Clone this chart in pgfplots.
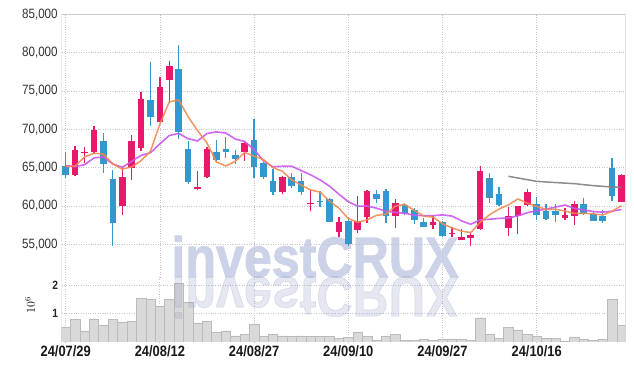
\documentclass[border=0pt]{standalone}
\usepackage{pgfplots}
\pgfplotsset{compat=1.18}
\usepackage{pgfplotstable}
\usepackage{fontspec}
\setmainfont{Liberation Sans}[FakeStretch=0.86]
\newfontfamily\wmfont{Liberation Sans Bold}[FakeStretch=0.88, FakeBold=1.4]
\definecolor{cup}{HTML}{E8196B}
\definecolor{cdn}{HTML}{3399CC}
\definecolor{cmaa}{HTML}{F08A50}
\definecolor{cmab}{HTML}{CC55EE}
\definecolor{cmac}{HTML}{808080}
\definecolor{cgrid}{HTML}{C4C4D4}
\definecolor{cframe}{HTML}{CCCCD4}
\definecolor{cvol}{HTML}{D9D9D9}
\definecolor{cvoledge}{HTML}{BBBBBB}
\definecolor{cwm}{HTML}{CCD3E8}
\definecolor{cwmb}{HTML}{96A0C8}

\pgfplotstableread{
i o h l c
1 63995 67870 63865 67310
2 66870 67700 65610 67090
3 66990 70480 66830 69960
6 60040 64960 58830 63825
7 64960 69300 63400 68520
8 67520 74830 67220 74000
10 70910 76840 70910 75570
11 76390 78960 73440 78310
14 62270 64610 62130 62520
15 63730 67650 63650 67440
19 67050 68430 65910 68260
23 61870 63960 61610 63830
26 60260 62170 59300 60430
29 56560 58510 55900 57910
31 56910 61250 56480 57990
32 58520 62130 57780 62000
35 58650 60910 57130 60340
39 57560 58640 57040 57950
41 56400 57260 55960 56480
42 55510 57040 55510 55960
43 55770 56480 54730 56220
44 57040 65260 56910 64610
47 57080 59870 56120 58740
48 58640 60040 56390 60040
49 60170 62220 59950 61870
53 58380 59740 58120 58870
54 58640 60650 57560 60300
59 60560 64220 60560 64090
}\up

\pgfplotstableread{
i o h l c
0 65261 67049 63656 63995
4 68520 69530 64310 65430
5 63565 64740 54740 57730
9 73870 78790 70480 71560
12 77920 80960 68750 69660
13 67480 68430 62910 63080
16 67090 68650 65820 65950
17 67390 68950 66270 67050
18 66700 67350 65480 66170
20 68650 71360 63650 65040
21 65610 65740 63530 63730
22 63300 64830 61480 61780
24 63830 64260 62350 62560
25 63300 64310 61480 61780
27 60690 62000 59910 60470
28 60950 61050 57900 57950
30 58080 58440 54730 55040
33 61610 62130 60390 60950
34 62000 62220 57780 58650
36 60080 60390 58870 59090
37 59520 59740 57690 58120
38 57950 58430 57210 57210
40 57910 57990 55960 56040
45 63700 64310 60390 60990
46 61570 62480 59950 60180
50 60300 61120 58120 58830
51 59390 60260 58120 58340
52 59300 60260 57860 58780
55 60300 61050 58820 58950
56 58950 59300 57990 57990
57 58740 59430 57780 57990
58 64960 66270 60610 61250
}\down

\pgfplotstableread{
i v
0 65150
1 65220
2 66380
3 66880
4 66757
5 65504
6 64807
7 65093
8 65901
9 67127
10 70695
11 73592
12 73820
13 71636
14 69828
15 68202
16 65730
17 65208
18 65826
19 66974
20 66494
21 66050
22 64996
23 64528
24 63388
25 62736
26 62076
27 61814
28 60638
29 59708
30 58360
31 57872
32 58178
33 58778
34 58926
35 59986
36 60206
37 59430
38 58682
39 58542
40 57682
41 57160
42 56728
43 56530
44 57862
45 58852
46 59592
47 60148
48 60912
49 60364
50 59932
51 59564
52 59572
53 59338
54 59024
55 59048
56 58978
57 58820
58 59296
59 60054
}\maa

\pgfplotstableread{
i v
0 65260
1 65130
2 65390
3 66260
4 66390
5 65480
6 65040
7 65820
8 66600
9 66942
10 68100
11 69200
12 69457
13 68769
14 68478
15 69449
16 69661
17 69514
18 68731
19 68401
20 67348
21 65890
22 65102
23 65177
24 65181
25 64615
26 64063
27 63405
28 62583
29 61548
30 60548
31 59974
32 59996
33 59708
34 59317
35 59173
36 59039
37 58804
38 58730
39 58734
40 58834
41 58683
42 58079
43 57606
44 58201
45 58266
46 58375
47 58437
48 58720
49 59112
50 59391
51 59577
52 59859
53 60124
54 59693
55 59491
56 59272
57 59197
58 59318
59 59531
}\mab

\pgfplotstableread{
i v
47 63870
48 63650
49 63430
50 63210
51 63130
52 63050
53 62980
54 62910
55 62780
56 62650
57 62560
58 62480
59 62430
}\mac

\pgfplotstableread{
i v
0 0.53
1 0.81
2 0.39
3 0.81
4 0.61
5 0.81
6 0.71
7 0.74
8 1.55
9 1.52
10 1.28
11 1.52
12 2.08
13 1.41
14 0.68
15 0.74
16 0.33
17 0.39
18 0.22
19 0.26
20 0.64
21 0.22
22 0.29
23 0.22
24 0.19
25 0.22
26 0.19
27 0.19
28 0.19
29 0.14
30 0.16
31 0.36
32 0.22
33 0.07
34 0.19
35 0.26
36 0.07
37 0.07
38 0.11
39 0.07
40 0.11
41 0.11
42 0.11
43 0.07
44 0.85
45 0.26
46 0.14
47 0.53
48 0.43
49 0.26
50 0.22
51 0.13
52 0.14
53 0.04
54 0.18
55 0.11
56 0.07
57 0.11
58 1.52
59 0.58
}\vol

\pgfplotsset{
  chartbase/.style={
    scale only axis, width=564pt,
    xmin=-0.425, xmax=59.45,
    axis line style={draw=none},
    major tick length=0pt,
    xtick={0,10,20,30,40,50},
    grid=major,
    major grid style={cgrid, dotted, line width=0.8pt},
    scaled y ticks=false,
  },
  candle/.style 2 args={draw=none, mark=none, forget plot,
    error bars/.cd, y dir=plus, y explicit, error mark=none,
    error bar style={line width=#1, draw=#2, solid}},
}

\begin{document}
\begin{tikzpicture}[x=1pt,y=1pt]
\path[use as bounding box] (0,0) rectangle (634,371);
% watermark (behind)
\node[anchor=base, inner sep=0, text=cwm, font=\wmfont\fontsize{57}{57}\selectfont] at (315,94) {investCRUX};

\begin{axis}[chartbase, at={(61.7pt,94pt)}, anchor=south west, height=262.7pt,
  ymin=50735, ymax=85000,
  xticklabels={},
  ytick={55000,60000,65000,70000,75000,80000,85000},
  yticklabels={{55,000},{60,000},{65,000},{70,000},{75,000},{80,000},{85,000}},
  yticklabel style={font=\fontsize{13.5}{13.5}\selectfont, text=black!80, xshift=-0.5pt},
]
\draw[cframe, line width=0.9pt] (rel axis cs:0,0) rectangle (rel axis cs:1,1);
% wicks
\addplot[candle={1.3pt}{cup}]
  table[x=i, y=l, y error plus expr=\thisrow{h}-\thisrow{l}] {\up};
\addplot[candle={1.3pt}{cdn}]
  table[x=i, y=l, y error plus expr=\thisrow{h}-\thisrow{l}] {\down};
% bodies
\addplot[candle={6.6pt}{cup}]
  table[x=i, y=o, y error plus expr=\thisrow{c}-\thisrow{o}] {\up};
\addplot[candle={6.6pt}{cdn}]
  table[x=i, y=c, y error plus expr=\thisrow{o}-\thisrow{c}] {\down};
% moving averages
\addplot[cmab, line width=1.6pt, opacity=0.9, mark=none] table[x=i, y=v] {\mab};
\addplot[cmaa, line width=1.5pt, opacity=0.9, mark=none] table[x=i, y=v] {\maa};
\addplot[cmac, line width=1.5pt, opacity=0.9, mark=none] table[x=i, y=v] {\mac};
\end{axis}

\begin{axis}[chartbase, at={(61.7pt,29pt)}, anchor=south west, height=65pt,
  ymin=0, ymax=2.3,
  xticklabels={24/07/29,24/08/12,24/08/27,24/09/10,24/09/27,24/10/16},
  xticklabel style={font=\bfseries\fontsize{15}{15}\selectfont, text=black!90},
  ytick={1,2}, yticklabels={1,2},
  yticklabel style={font=\bfseries\fontsize{12}{12}\selectfont, text=black!85},
]
\addplot[ybar, bar width=1, bar shift=0pt, fill=cvol, draw=cvoledge, line width=0.5pt] table[x=i, y=v] {\vol};
\draw[cframe, line width=0.9pt] (rel axis cs:0,0) -- (rel axis cs:0,1);
\draw[cframe, line width=0.9pt] (rel axis cs:1,0) -- (rel axis cs:1,1);
\end{axis}

% reflection of watermark (on top, translucent)
\node[anchor=base, inner sep=0, yscale=-1, text=cwmb, opacity=0.25, font=\wmfont\fontsize{57}{57}\selectfont] at (315,94) {investCRUX};
\node[rotate=90, font=\fontsize{11.5}{11.5}\selectfont] at (30,66) {$10^6$};
\end{tikzpicture}
\end{document}
